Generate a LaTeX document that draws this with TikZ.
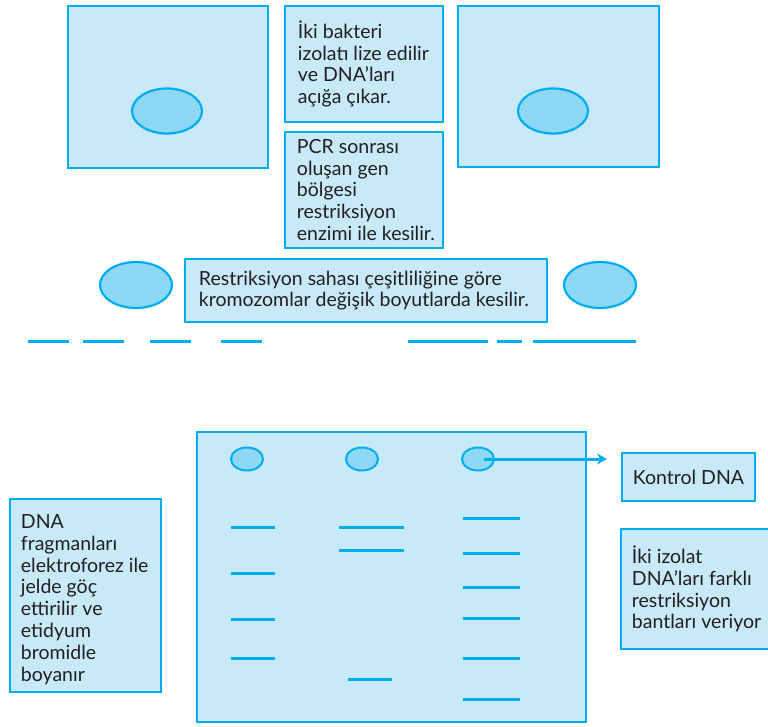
\documentclass[tikz,border=0pt]{standalone}
\usepackage{fontspec}
\setmainfont{Lato}
\usetikzlibrary{arrows.meta,shapes.geometric}
\definecolor{panelfill}{HTML}{C7E9F8}
\definecolor{edge}{HTML}{00AEEF}
\definecolor{blob}{HTML}{8ED8F6}
\definecolor{ink}{HTML}{231F20}
\tikzset{
  panel/.style={draw=edge, fill=panelfill, line width=2.5pt, rectangle, inner sep=0pt},
  nucleus/.style={draw=edge, fill=blob, line width=2.2pt, ellipse, inner sep=0pt},
  well/.style={draw=edge, fill=blob, line width=2pt, ellipse, inner sep=0pt,
    minimum width=32pt, minimum height=23pt},
  band/.style={draw=edge, line width=3pt},
  caption/.style={text=ink, font=\fontsize{19.5}{21.8}\selectfont, align=left,
    anchor=west, inner sep=0pt},
  arr/.style={draw=edge, line width=3pt, -{Stealth[length=10pt,width=11pt]}}
}
\begin{document}
\begin{tikzpicture}[x=1pt,y=-1pt]
\useasboundingbox (0,0) rectangle (768,726);

% bacterial cells with their chromosomes
\node[panel, minimum width=200pt, minimum height=162pt] (cellA) at (168,87) {};
\node[panel, minimum width=201pt, minimum height=161pt] (cellB) at (558.5,86.5) {};
\node[nucleus, minimum width=70pt, minimum height=45pt] (nucA) at (167,111) {};
\node[nucleus, minimum width=70pt, minimum height=45pt] (nucB) at (553,111) {};

% step captions
\node[panel, minimum width=158pt, minimum height=116pt] (lysis) at (364,64) {};
\node[caption] (lysisT) at ([xshift=14pt]lysis.west) {İki bakteri\\izolatı lize edilir\\ve DNA’ları\\açığa çıkar.};
\node[panel, minimum width=158pt, minimum height=116pt] (digest) at (364,190) {};
\node[caption] (digestT) at ([xshift=13pt]digest.west) {PCR sonrası\\oluşan gen\\bölgesi\\restriksiyon\\enzimi ile kesilir.};

% freed chromosomes and the cut explanation
\node[nucleus, minimum width=72pt, minimum height=46pt] (chrA) at (136,285) {};
\node[nucleus, minimum width=72pt, minimum height=46pt] (chrB) at (600,285) {};
\node[panel, minimum width=362pt, minimum height=63pt] (cut) at (366,290.5) {};
\node[caption] (cutT) at ([xshift=15pt]cut.west) {Restriksiyon sahası çeşitliliğine göre\\kromozomlar değişik boyutlarda kesilir.};

% restriction fragments
\foreach \a/\b in {28/69, 83/124, 150/191, 221/262}
  \draw[band] (\a,341) -- (\b,341);
\foreach \a/\b in {408/488, 497/522, 533/636}
  \draw[band] (\a,341) -- (\b,341);

% agarose gel
\node[panel, minimum width=389pt, minimum height=290pt] (gel) at (391.5,577) {};
\node[well] (w1) at (247,459) {};
\node[well] (w2) at (362,459) {};
\node[well] (w3) at (478,459) {};

% lane 1 bands
\foreach \y in {527,573,619,658}
  \draw[band] (231,\y) -- (275,\y);
% lane 2 bands
\foreach \y in {527,550}
  \draw[band] (339,\y) -- (404,\y);
\draw[band] (348,679) -- (392,679);
% lane 3 (control) bands
\foreach \y in {518,553,587,618,658,699}
  \draw[band] (463,\y) -- (520,\y);

% side captions
\node[panel, minimum width=133pt, minimum height=48pt] (ctrl) at (688.5,477) {};
\node[caption, anchor=center] (ctrlT) at (ctrl.center) {Kontrol DNA};
\coordinate (ctrlTip) at (607,459);
\draw[arr] ([xshift=6pt]w3.center) -- (ctrlTip);

\node[panel, minimum width=150pt, minimum height=120pt] (diff) at (696,589) {};
\node[caption] (diffT) at ([xshift=12pt]diff.west) {İki izolat\\DNA’ları farklı\\restriksiyon\\bantları veriyor};

\node[panel, minimum width=151pt, minimum height=193pt] (elec) at (85.5,595.5) {};
\node[caption] (elecT) at ([xshift=12pt, yshift=-4pt]elec.west) {DNA\\fragmanları\\elektroforez ile\\jelde göç\\ettirilir ve\\etidyum\\bromidle\\boyanır};
\end{tikzpicture}
\end{document}
